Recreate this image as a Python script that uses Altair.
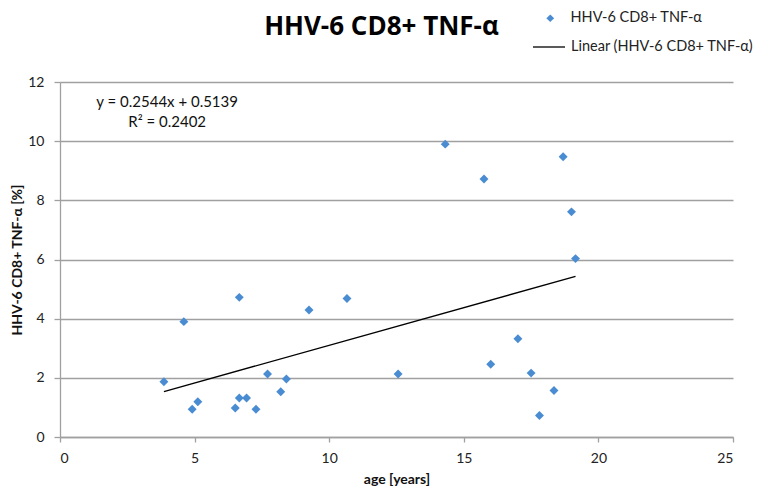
import altair as alt
import pandas as pd

age = [3.86, 4.60, 4.91, 5.12, 6.51, 6.66, 6.66, 6.93, 7.28, 7.71, 8.20, 8.41,
       9.25, 10.66, 12.56, 14.31, 15.75, 18.69, 19.00, 19.15, 17.01, 16.00,
       17.50, 18.35, 17.81]
tnf = [1.87, 3.90, 0.94, 1.19, 0.98, 4.72, 1.32, 1.32, 0.94, 2.13, 1.53, 1.96,
       4.29, 4.68, 2.13, 9.90, 8.72, 9.47, 7.61, 6.03, 3.32, 2.46,
       2.16, 1.57, 0.73]
series_name = "HHV-6 CD8+ TNF-α"
trend_name = "Linear (HHV-6 CD8+ TNF-α)"
eq_lines = ["y = 0.2544x + 0.5139", "R² = 0.2402"]
eq_x = [3.98, 3.98]
eq_y = [11.33, 10.65]

FONT = "Lato"

df = pd.DataFrame({"age": age, "tnf": tnf, "series": series_name})
eq = pd.DataFrame({"x": eq_x, "y": eq_y, "t": eq_lines})

xs = alt.Scale(domain=[0, 25])
ys = alt.Scale(domain=[0, 12])

x_axis = alt.Axis(values=[0, 5, 10, 15, 20, 25], grid=False, tickSize=5,
                  labelPadding=9, titlePadding=7, title="age  [years]")
y_axis = alt.Axis(values=[0, 2, 4, 6, 8, 10, 12], grid=True, tickSize=6,
                  labelPadding=10, titlePadding=3, title="HHV-6 CD8+ TNF-α [%]")

points = alt.Chart(df).mark_point(shape="diamond", filled=True, size=80, opacity=1).encode(
    x=alt.X("age:Q", scale=xs, axis=x_axis),
    y=alt.Y("tnf:Q", scale=ys, axis=y_axis),
    color=alt.Color("series:N", scale=alt.Scale(range=["#4a8cd2"]),
                    legend=alt.Legend(title=None, orient="none", legendX=483, legendY=-71,
                                      symbolType="diamond", symbolSize=60,
                                      labelFontSize=14.5, labelFont=FONT, labelColor="#222",
                                      labelOffset=13, labelLimit=400)),
)

trend = alt.Chart(df).transform_regression("age", "tnf").transform_calculate(
    name="'" + trend_name + "'"
).mark_line(strokeWidth=1.3).encode(
    x=alt.X("age:Q", scale=xs),
    y=alt.Y("tnf:Q", scale=ys),
    stroke=alt.Stroke("name:N", scale=alt.Scale(range=["#000000"]),
                      legend=alt.Legend(title=None, orient="none", legendX=472, legendY=-52,
                                        symbolType="stroke", symbolSize=1024,
                                        symbolStrokeWidth=1.3,
                                        labelFontSize=14.5, labelFont=FONT, labelColor="#222",
                                        labelOffset=5, labelLimit=400)),
)

eq_text = alt.Chart(eq).mark_text(fontSize=15, font=FONT, color="#111").encode(
    x=alt.X("x:Q", scale=xs),
    y=alt.Y("y:Q", scale=ys),
    text="t:N",
)

chart = alt.layer(points, trend, eq_text).properties(
    width=673, height=355,
    autosize=alt.AutoSizeParams(type="none"),
    padding={"left": 52, "top": 74, "right": 30, "bottom": 51},
    title=alt.TitleParams(series_name, fontSize=26, font="Open Sans", fontWeight="bold",
                          anchor="middle", dx=-15, offset=-29, color="#000"),
).configure_view(stroke=None).configure_axis(
    domainColor="#a0a0a0", domainWidth=1.3, tickColor="#a0a0a0", tickWidth=1.3,
    gridColor="#a0a0a0", gridWidth=1.3,
    labelFont=FONT, labelFontSize=14, labelColor="#222",
    titleFont=FONT, titleFontSize=14, titleFontWeight="bold", titleColor="#111",
)

chart.save("out.html", embed_options={"renderer": "svg", "actions": False})
